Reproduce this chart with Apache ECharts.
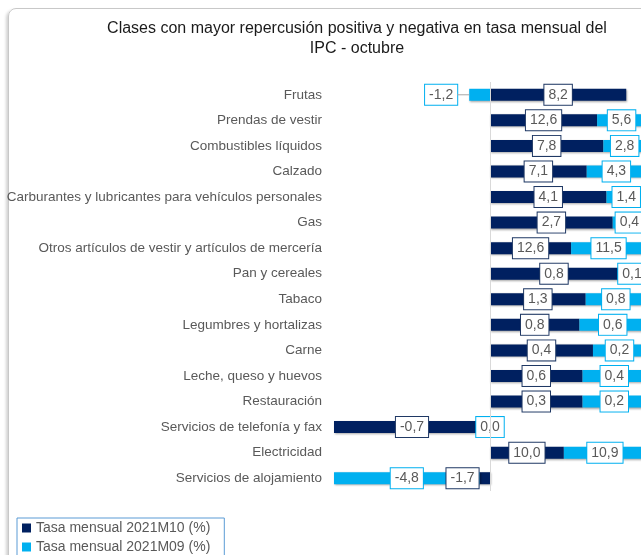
<!DOCTYPE html>
<html>
<head>
<meta charset="utf-8">
<script src="https://cdn.jsdelivr.net/npm/echarts@6/dist/echarts.min.js"></script>
<style>
    html, body { margin: 0; padding: 0; overflow: hidden; background: #fff; }
    .frame {
        position: absolute; left: 8px; top: 8px; width: 720px; height: 600px;
        border: 1px solid #c8c8c8; border-radius: 8px;
        box-shadow: -2px 2px 3px rgba(0, 0, 0, 0.18);
    }
    #chart { position: absolute; left: 0; top: 0; width: 700px; height: 600px; }
</style>
</head>
<body>
<div class="frame"></div>
<div id="chart"></div>
<script>
const categories = [
    "Frutas",
    "Prendas de vestir",
    "Combustibles líquidos",
    "Calzado",
    "Carburantes y lubricantes para vehículos personales",
    "Gas",
    "Otros artículos de vestir y artículos de mercería",
    "Pan y cereales",
    "Tabaco",
    "Legumbres y hortalizas",
    "Carne",
    "Leche, queso y huevos",
    "Restauración",
    "Servicios de telefonía y fax",
    "Electricidad",
    "Servicios de alojamiento",
]
// bar lengths as drawn (the right hand bars run past the edge of the picture)
const barM10 = [1.31, 1.03, 1.09, 0.93, 1.12, 1.18, 0.78, 1.23, 0.92, 0.86, 0.99, 0.89, 0.89, -1.5, 0.71, -0.1]
const barM09 = [-0.2, 0.6, 0.5, 0.7, 0.5, 0.4, 0.8, 0.3, 0.6, 0.7, 0.6, 0.7, 0.7, 0, 0.9, -1.4]
// rates printed in the label boxes
const tasaM10 = [8.2, 12.6, 7.8, 7.1, 4.1, 2.7, 12.6, 0.8, 1.3, 0.8, 0.4, 0.6, 0.3, -0.7, 10.0, -1.7]
const tasaM09 = [-1.2, 5.6, 2.8, 4.3, 1.4, 0.4, 11.5, 0.1, 0.8, 0.6, 0.2, 0.4, 0.2, 0.0, 10.9, -4.8]

const FONT = "Liberation Sans"
const chart = echarts.init(document.getElementById("chart"))

function fmt(v) {
    return v.toFixed(1).replace(".", ",")
}

// negative bars too short to hold their box
function shortNeg(v) {
    return v < 0 && v > -0.3
}

// short negative bars get their box to the left, zero bars sit on the axis
function moveLabel(bars) {
    return function (p) {
        const v = bars[p.dataIndex]
        const lr = p.labelRect
        if (v === 0) {
            const zero = chart.convertToPixel({ xAxisIndex: 0 }, 0)
            return { dx: zero - (lr.x + lr.width / 2) }
        }
        if (shortNeg(v)) {
            return { dx: p.rect.x - (lr.x + lr.width) }
        }
    }
}

function boxLabel(border, tasa, bars, lead) {
    return {
        show: true,
        position: "inside",
        formatter: (p) => {
            const txt = "{box|" + fmt(tasa[p.dataIndex]) + "}"
            return lead && shortNeg(bars[p.dataIndex]) ? txt + "{lead| }" : txt
        },
        rich: {
            box: {
                fontFamily: FONT,
                fontSize: 14,
                lineHeight: 16,
                color: "#595959",
                backgroundColor: "#fff",
                borderColor: border,
                borderWidth: 1,
                padding: [3, 4],
            },
            lead: {
                width: 12,
                height: 1,
                lineHeight: 1,
                fontSize: 1,
                backgroundColor: "#a6a6a6",
            },
        },
    }
}

const option = {
    textStyle: { fontFamily: FONT },
    title: {
        text: "Clases con mayor repercusión positiva y negativa en tasa mensual del\nIPC - octubre",
        left: 352,
        textAlign: "center",
        top: 14,
        textStyle: {
            fontFamily: FONT,
            fontSize: 16,
            fontWeight: "normal",
            color: "#1a1a1a",
            lineHeight: 20,
        },
    },
    legend: {
        orient: "vertical",
        left: 17,
        top: 518,
        icon: "rect",
        itemWidth: 9,
        itemHeight: 9,
        itemGap: 5,
        padding: [3, 14, 3, 5],
        borderColor: "#5b9bd5",
        borderWidth: 1,
        textStyle: { fontFamily: FONT, fontSize: 14, color: "#595959" },
        data: ["Tasa mensual 2021M10 (%)", "Tasa mensual 2021M09 (%)"],
    },
    grid: {
        left: 334,
        right: 54,
        top: 82,
        bottom: 109,
        outerBoundsMode: "none",
    },
    xAxis: {
        type: "value",
        min: -1.5,
        max: 1.5,
        axisLine: { show: false },
        axisTick: { show: false },
        axisLabel: { show: false },
        splitLine: { show: false },
    },
    yAxis: {
        type: "category",
        inverse: true,
        data: categories,
        axisLine: { show: false, onZero: false },
        axisTick: { show: false },
        axisLabel: { fontFamily: FONT, fontSize: 13.5, color: "#595959", margin: 12 },
    },
    series: [
        {
            name: "Tasa mensual 2021M10 (%)",
            type: "bar",
            stack: "total",
            barWidth: 12,
            data: barM10,
            itemStyle: {
                color: "#002060",
                shadowColor: "rgba(0,0,0,0.35)",
                shadowBlur: 2,
                shadowOffsetX: 1,
                shadowOffsetY: 1,
            },
            label: boxLabel("#1f3864", tasaM10, barM10, false),
            labelLayout: moveLabel(barM10),
            markLine: {
                silent: true,
                symbol: "none",
                label: { show: false },
                lineStyle: { color: "#d9d9d9", type: "solid", width: 1 },
                data: [{ xAxis: 0 }],
            },
        },
        {
            name: "Tasa mensual 2021M09 (%)",
            type: "bar",
            stack: "total",
            barWidth: 12,
            data: barM09,
            itemStyle: {
                color: "#00b0f0",
                shadowColor: "rgba(0,0,0,0.35)",
                shadowBlur: 2,
                shadowOffsetX: 1,
                shadowOffsetY: 1,
            },
            label: boxLabel("#00b0f0", tasaM09, barM09, true),
            labelLayout: moveLabel(barM09),
        },
    ],
}

chart.setOption(option)
</script>
</body>
</html>
